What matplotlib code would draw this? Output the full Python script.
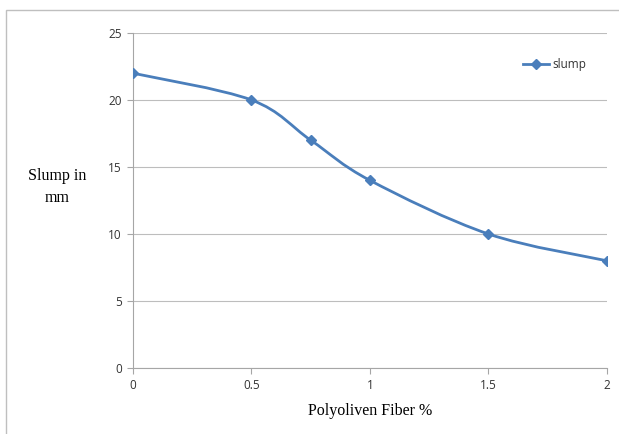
import numpy as np
import matplotlib
matplotlib.use("Agg")
import matplotlib.pyplot as plt
from matplotlib.path import Path
from matplotlib.patches import PathPatch, Rectangle
from matplotlib.lines import Line2D

# Slump test results
fiber_pct = [0, 0.5, 0.75, 1, 1.5, 2]
slump_mm = [22, 20, 17, 14, 10, 8]
x_ticks = [0, 0.5, 1, 1.5, 2]
x_tick_labels = ["0", "0.5", "1", "1.5", "2"]
y_ticks = [0, 5, 10, 15, 20, 25]

LINE_BLUE = "#4A7EBB"
GRID = "#BDBDBD"
AXIS = "#A6A6A6"
TICK_FONT = ["Open Sans", "DejaVu Sans"]
SERIF = ["Liberation Serif", "DejaVu Serif"]


def smooth_path(xs, ys):
    # Catmull-Rom style bezier through every point (spreadsheet "smoothed line")
    pts = np.column_stack([xs, ys]).astype(float)
    padded = np.vstack([pts[0], pts, pts[-1]])
    verts = [pts[0]]
    codes = [Path.MOVETO]
    for i in range(len(pts) - 1):
        p0, p1, p2, p3 = padded[i], padded[i + 1], padded[i + 2], padded[i + 3]
        c1 = p1 + (p2 - p0) / 6.0
        c2 = p2 - (p3 - p1) / 6.0
        verts += [c1, c2, p2]
        codes += [Path.CURVE4] * 3
    return Path(verts, codes)


fig = plt.figure(figsize=(6.19, 4.34), dpi=100)
fig.patch.set_facecolor("white")

# outer chart frame
fig.patches.append(Rectangle((6 / 619, -0.5), 2.0, 0.5 + 1 - 10 / 434,
                             transform=fig.transFigure, fill=False,
                             edgecolor="#BFBFBF", linewidth=1.0))

ax = fig.add_axes([133 / 619, 1 - 368 / 434, 474 / 619, 335 / 434])
ax.set_xlim(0, 2)
ax.set_ylim(0, 25)

ax.add_patch(PathPatch(smooth_path(fiber_pct, slump_mm), facecolor="none",
                       edgecolor=LINE_BLUE, linewidth=2.0, capstyle="round",
                       zorder=3))
ax.plot(fiber_pct, slump_mm, linestyle="none", marker="D", markersize=5,
        color=LINE_BLUE, zorder=4)

ax.set_yticks(y_ticks)
ax.set_xticks(x_ticks)
ax.set_xticklabels(x_tick_labels)
ax.yaxis.grid(True, color=GRID, linewidth=0.8)
ax.set_axisbelow(True)

for side in ["top", "right"]:
    ax.spines[side].set_visible(False)
for side in ["left", "bottom"]:
    ax.spines[side].set_color(AXIS)
    ax.spines[side].set_linewidth(0.8)

ax.tick_params(axis="both", colors=AXIS, length=4, width=0.8, direction="out",
               labelcolor="#333333", labelsize=8.5, pad=4)
for lbl in ax.get_xticklabels() + ax.get_yticklabels():
    lbl.set_family(TICK_FONT)

fig.text(57 / 619, 1 - 187 / 434, "Slump in\nmm", ha="center", va="center",
         family=SERIF, fontsize=11.5, linespacing=1.45)
fig.text(370 / 619, 1 - 411 / 434, "Polyoliven Fiber %", ha="center",
         va="center", family=SERIF, fontsize=11.5)

handle = Line2D([], [], color=LINE_BLUE, linewidth=2.0, marker="D",
                markersize=5)
leg = ax.legend([handle], ["slump"], loc="upper left",
                bbox_to_anchor=(518 / 619, 1 - 53 / 434),
                bbox_transform=fig.transFigure, frameon=False,
                handlelength=2.2, handletextpad=0.3, borderaxespad=0,
                prop={"family": TICK_FONT, "size": 8.5})
for t in leg.get_texts():
    t.set_color("#333333")

fig.savefig("out.png", dpi=100, facecolor="white")
